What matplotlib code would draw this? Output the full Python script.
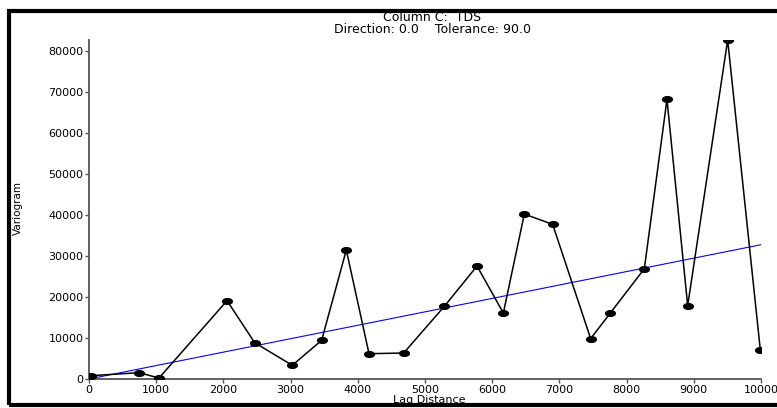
import matplotlib
matplotlib.use("Agg")
import matplotlib.pyplot as plt
import numpy as np
from matplotlib.path import Path
from matplotlib.patches import Rectangle

# experimental variogram points
lag = [25, 744, 1042, 2054, 2466, 3025, 3462, 3829, 4167, 4683, 5288,
       5774, 6166, 6478, 6900, 7465, 7758, 8264, 8601, 8909, 9504, 9990]
gamma = [800, 1540, 240, 19100, 8850, 3340, 9440, 31460, 6170, 6340, 17730,
         27560, 16100, 40240, 37720, 9840, 16100, 26900, 68220, 17880, 82680, 7070]

# fitted linear model
model_lag = [0, 10000]
model_gamma = [0, 32760]

xticks = list(range(0, 10001, 1000))
yticks = list(range(0, 80001, 10000))

title1 = "Column C:  TDS"
title2 = "Direction: 0.0    Tolerance: 90.0"

plt.rcParams['font.family'] = ['DejaVu Sans']

W, H = 777, 408
fig = plt.figure(figsize=(W / 100, H / 100), dpi=100)
ax = fig.add_axes([89 / W, 1 - 379 / H, (761 - 89) / W, (379 - 40) / H])

# flattened ellipse marker
t = np.linspace(0, 2 * np.pi, 40)
ell = Path(np.column_stack([1.7 * np.cos(t), np.sin(t)]), closed=True)

ax.plot(model_lag, model_gamma, color='#0000ff', lw=0.8, zorder=2)
ax.plot(lag, gamma, color='black', lw=1.1, marker=ell, markersize=7,
        markerfacecolor='black', markeredgecolor='black', zorder=3)

ax.set_xlim(0, 10000)
ax.set_ylim(0, 82700)
ax.set_xticks(xticks)
ax.set_yticks(yticks)
ax.set_xticklabels([str(v) for v in xticks])
ax.set_yticklabels([str(v) for v in yticks])

for s in ['top', 'right']:
    ax.spines[s].set_visible(False)
for s in ['left', 'bottom']:
    ax.spines[s].set_color('#555555')
    ax.spines[s].set_linewidth(1.3)
ax.tick_params(direction='out', length=3, width=1, color='#555555',
               labelsize=8, pad=1)

fig.text(432 / W, 1 - 21 / H, title1, ha='center', va='baseline', fontsize=9)
fig.text(432 / W, 1 - 33 / H, title2, ha='center', va='baseline', fontsize=9)
fig.text(429 / W, 1 - 403 / H, "Lag Distance", ha='center', va='baseline', fontsize=8)
fig.text(18 / W, 1 - 208 / H, "Variogram", ha='center', va='center', rotation=90,
         fontsize=7.5, family=['Liberation Sans Narrow', 'DejaVu Sans'])

# outer frame, right edge runs off the canvas
fig.patches.append(Rectangle((9 / W, 1 - 405 / H), 800 / W, (405 - 11) / H,
                             transform=fig.transFigure, fill=False,
                             edgecolor='black', linewidth=3))

fig.savefig("out.png", dpi=100)
